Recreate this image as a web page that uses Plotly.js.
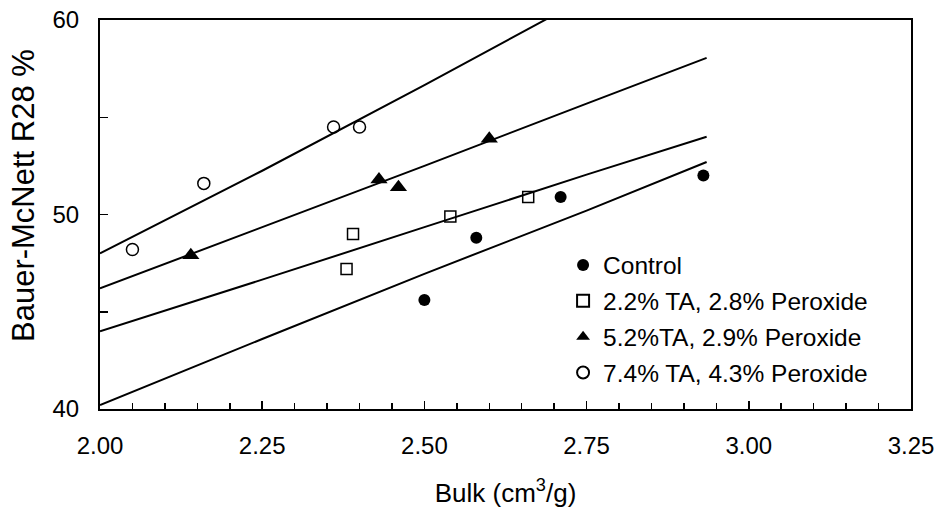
<!DOCTYPE html>
<html>
<head>
<meta charset="utf-8">
<script src="https://cdn.plot.ly/plotly-3.0.1.min.js"></script>
<style>
  html, body { margin: 0; padding: 0; background: #ffffff; }
  #chart { width: 943px; height: 512px; }
</style>
</head>
<body>
<div id="chart"></div>
<script>
// Measured points
const controlX = [2.50, 2.58, 2.71, 2.93];
const controlY = [45.6, 48.8, 50.9, 52.0];
const ta22X = [2.38, 2.39, 2.54, 2.66];
const ta22Y = [47.2, 49.0, 49.9, 50.9];
const ta52X = [2.14, 2.43, 2.46, 2.60];
const ta52Y = [47.9, 51.8, 51.4, 53.9];
const ta74X = [2.05, 2.16, 2.36, 2.40];
const ta74Y = [48.2, 51.6, 54.5, 54.5];

// Fitted lines
const fitX = [2.00, 2.25, 2.50, 2.75, 2.935];
const controlFit = [40.2, 43.6, 46.95, 50.2, 52.7];
const ta22Fit = [44.0, 46.65, 49.35, 52.05, 54.0];
const ta52Fit = [46.2, 49.35, 52.5, 55.7, 58.05];
const ta74Fit = [48.0, 52.25, 56.65, 61.1, 64.5];

// Labels
const seriesNames = ['Control', '2.2% TA, 2.8% Peroxide', '5.2%TA, 2.9% Peroxide', '7.4% TA, 4.3% Peroxide'];
const xTitle = 'Bulk (cm<sup>3</sup>/g)';
const yTitle = 'Bauer-McNett R28 %';

const FONT = 'Liberation Sans, Arial, sans-serif';

function fitLine(y) {
  return {x: fitX, y: y, mode: 'lines', type: 'scatter', showlegend: false,
          hoverinfo: 'skip', line: {color: '#000', width: 2}};
}

const traces = [
  fitLine(controlFit), fitLine(ta22Fit), fitLine(ta52Fit), fitLine(ta74Fit),
  {x: controlX, y: controlY, mode: 'markers', type: 'scatter', name: seriesNames[0], legendgroup: 'a',
   marker: {symbol: 'circle', size: 12, color: '#000'}},
  {x: ta22X, y: ta22Y, mode: 'markers', type: 'scatter', name: seriesNames[1], legendgroup: 'b',
   marker: {symbol: 'square-open', size: 11, color: '#000', line: {width: 1.5, color: '#000'}}},
  {x: ta52X, y: ta52Y, mode: 'markers', type: 'scatter', name: seriesNames[2], legendgroup: 'c',
   marker: {symbol: 'triangle-up', size: 15, color: '#000'}},
  {x: ta74X, y: ta74Y, mode: 'markers', type: 'scatter', name: seriesNames[3], legendgroup: 'd',
   marker: {symbol: 'circle-open', size: 12, color: '#000', line: {width: 1.5, color: '#000'}}}
];

const layout = {
  width: 943, height: 512,
  margin: {l: 100, r: 32, t: 20, b: 103},
  paper_bgcolor: '#fff', plot_bgcolor: '#fff',
  font: {family: FONT, size: 24, color: '#000'},
  showlegend: true,
  legend: {x: 0.571, y: 0.428, xanchor: 'left', yanchor: 'top', bgcolor: 'rgba(0,0,0,0)',
           font: {family: FONT, size: 24.5, color: '#000'}, traceorder: 'grouped', tracegroupgap: 1,
           itemsizing: 'constant', itemwidth: 30},
  xaxis: {
    range: [2.0, 3.25], dtick: 0.25, tick0: 2.0, tickformat: '.2f',
    showgrid: false, zeroline: false, showline: true, linecolor: '#000', linewidth: 2, mirror: true,
    ticks: 'inside', ticklen: 8, tickwidth: 1.5, tickcolor: '#000',
    minor: {dtick: 0.05, ticks: 'inside', ticklen: 6, tickwidth: 1.5, tickcolor: '#000', showgrid: false},
    tickfont: {family: FONT, size: 24},
    ticklabelstandoff: 14,
    title: {text: xTitle, font: {family: FONT, size: 26}, standoff: 26}
  },
  yaxis: {
    range: [40, 60], dtick: 10, tick0: 40,
    showgrid: false, zeroline: false, showline: true, linecolor: '#000', linewidth: 2, mirror: true,
    ticks: 'inside', ticklen: 8, tickwidth: 1.5, tickcolor: '#000',
    minor: {dtick: 5, ticks: 'inside', ticklen: 8, tickwidth: 1.5, tickcolor: '#000', showgrid: false},
    tickfont: {family: FONT, size: 24},
    ticklabelstandoff: 14
  },
  annotations: [
    {text: yTitle, xref: 'paper', yref: 'paper', x: -0.095, y: 0.55, xanchor: 'center', yanchor: 'middle',
     textangle: -90, showarrow: false, font: {family: FONT, size: 31, color: '#000'}}
  ]
};

Plotly.newPlot('chart', traces, layout, {displayModeBar: false, staticPlot: true});
</script>
</body>
</html>
